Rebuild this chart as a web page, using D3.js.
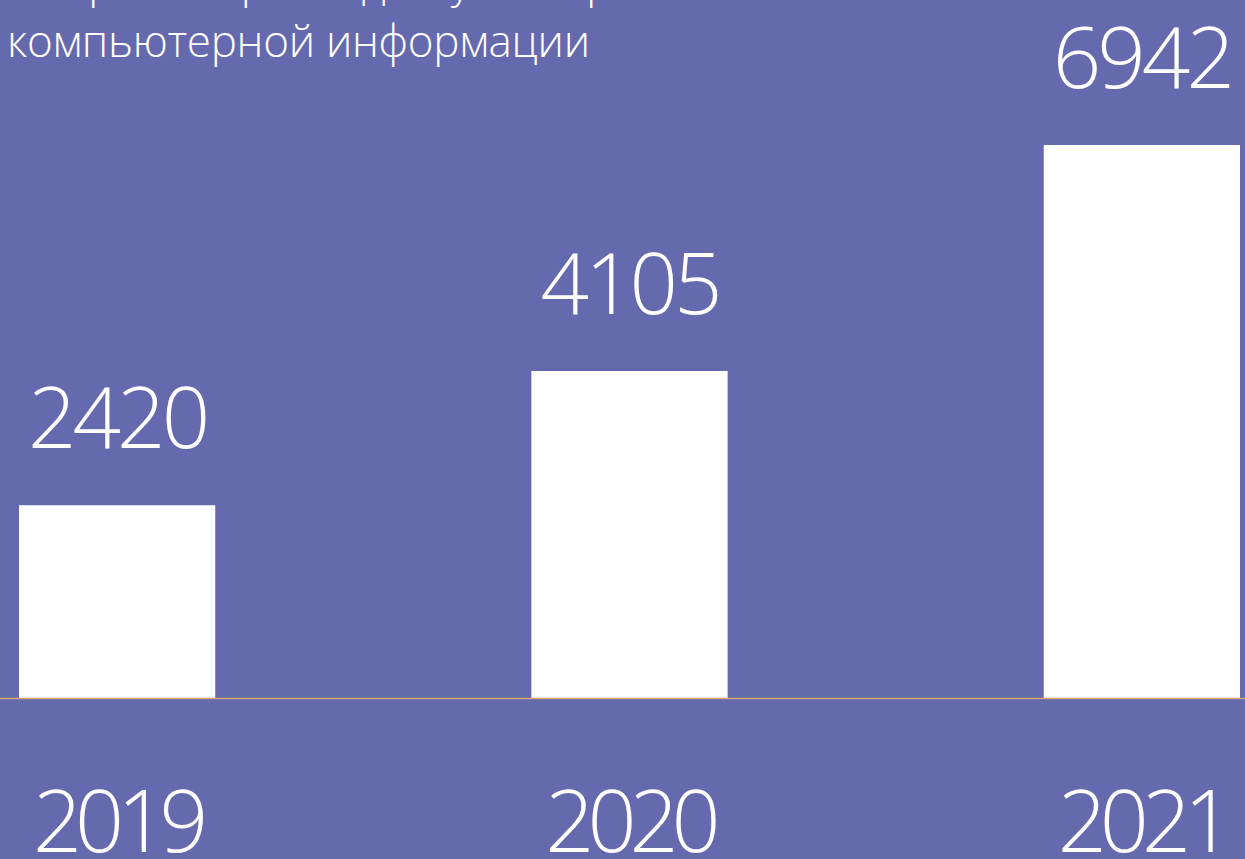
<!DOCTYPE html>
<html>
<head>
<meta charset="utf-8">
<script src="https://cdn.jsdelivr.net/npm/d3@7"></script>
<style>
  html, body { margin: 0; padding: 0; background: #6569ae; overflow: hidden; }
  svg text { font-family: "Open Sans", "Segoe UI", Lato, sans-serif; font-weight: 300; fill: #ffffff; }
</style>
</head>
<body>
<div id="chart"></div>
<script>
// chart data
const years = ["2019", "2020", "2021"];
const crimes = [2420, 4105, 6942];
const titleLines = ["Неправомерный доступ к охраняемой законом", "компьютерной информации"];

const width = 1245, height = 859;
const baseY = 698, topY = 145;

const svg = d3.select("#chart")
    .append("svg")
    .attr("width", width)
    .attr("height", height);

svg.append("rect")
    .attr("width", width)
    .attr("height", height)
    .attr("fill", "#6569ae");

// scales
const x = d3.scaleBand()
    .domain(years)
    .range([19, 1240])
    .paddingInner(0.617)
    .paddingOuter(0);

const y = d3.scaleLinear()
    .domain([0, d3.max(crimes)])
    .range([baseY, topY]);

const data = years.map((yr, i) => ({ year: yr, value: crimes[i] }));

// bars
svg.selectAll(".bar")
    .data(data)
    .enter()
    .append("rect")
    .attr("class", "bar")
    .attr("x", d => x(d.year))
    .attr("y", d => y(d.value))
    .attr("width", x.bandwidth())
    .attr("height", d => baseY - y(d.value))
    .attr("fill", "#ffffff");

// baseline
svg.append("line")
    .attr("x1", 0)
    .attr("x2", width)
    .attr("y1", baseY + 0.5)
    .attr("y2", baseY + 0.5)
    .attr("stroke", "#d4a868")
    .attr("stroke-width", 1.5);

// value labels above bars
svg.selectAll(".bar-label")
    .data(data)
    .enter()
    .append("text")
    .attr("class", "bar-label")
    .attr("x", d => x(d.year) + x.bandwidth() / 2)
    .attr("y", d => y(d.value) - 57)
    .attr("text-anchor", "middle")
    .attr("font-size", "85px")
    .attr("letter-spacing", "-4px")
    .text(d => d.value);

// x axis (year labels)
const xAxis = svg.append("g")
    .attr("transform", `translate(0,${baseY})`)
    .call(d3.axisBottom(x).tickSize(0).tickPadding(0));
xAxis.select(".domain").remove();
xAxis.selectAll("text")
    .attr("y", 154)
    .attr("dy", 0)
    .attr("font-size", "86px")
    .attr("letter-spacing", "-7px")
    .style("font-family", "\"Open Sans\", sans-serif")
    .style("font-weight", 300)
    .attr("fill", "#ffffff");

// title (first line partly cut off at the top)
svg.selectAll(".title")
    .data(titleLines)
    .enter()
    .append("text")
    .attr("class", "title")
    .attr("x", 7)
    .attr("y", (d, i) => -2 + i * 59)
    .attr("font-size", "44px")
    .attr("letter-spacing", "-0.3px")
    .text(d => d);
</script>
</body>
</html>
